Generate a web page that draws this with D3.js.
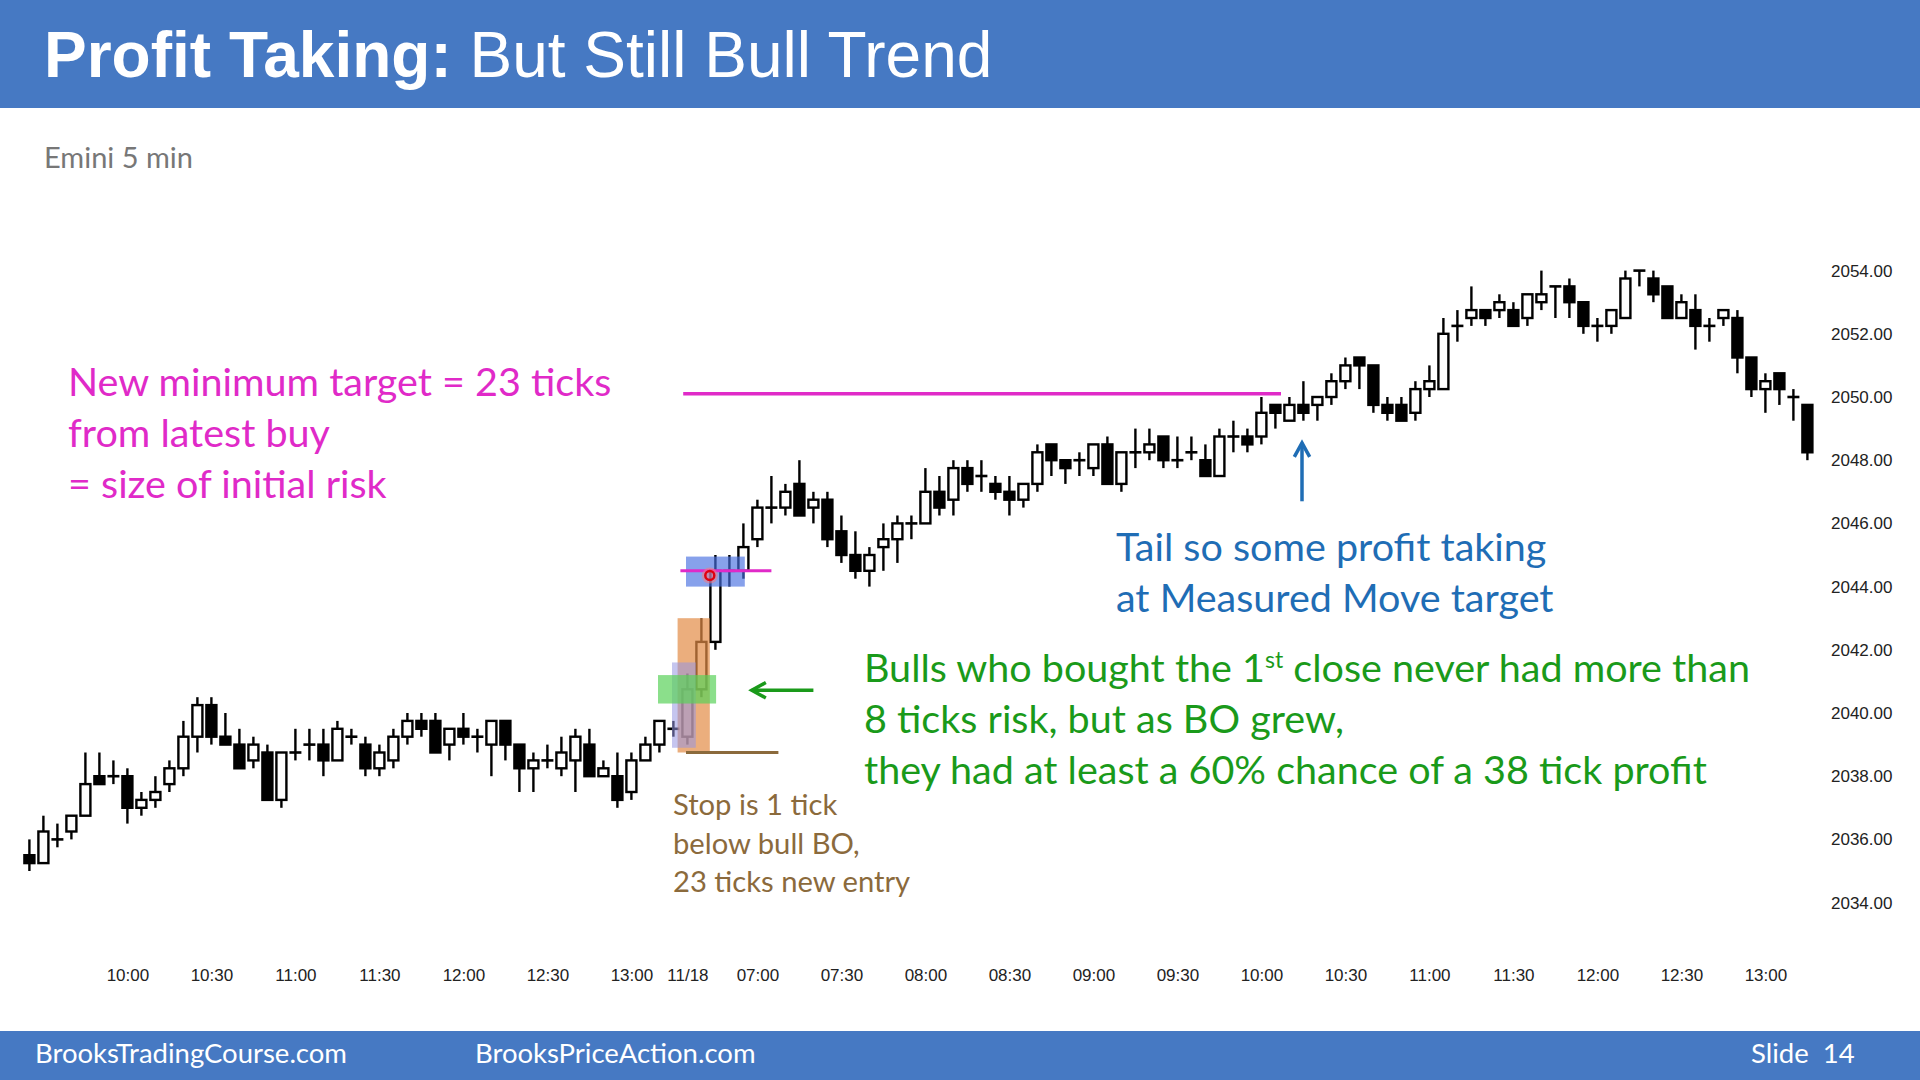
<!DOCTYPE html>
<meta charset="utf-8">
<script src="https://d3js.org/d3.v7.min.js"></script>
<style>
  body { margin: 0; background: #fff; }
  .note { font-family: Lato, "Noto Sans", sans-serif; }
  .axis text { font-family: "Liberation Sans", Arial, sans-serif; fill: #222; }
</style>
<body>
<div id="vis"></div>
<script>
// ---- data: Emini 5 min bars, 11/17 afternoon then 11/18 session ----
var day1Times = ["09:25","09:30","09:35","09:40","09:45","09:50","09:55","10:00","10:05","10:10",
  "10:15","10:20","10:25","10:30","10:35","10:40","10:45","10:50","10:55","11:00",
  "11:05","11:10","11:15","11:20","11:25","11:30","11:35","11:40","11:45","11:50",
  "11:55","12:00","12:05","12:10","12:15","12:20","12:25","12:30","12:35","12:40",
  "12:45","12:50","12:55","13:00","13:05","13:10","13:15"];
var day2Times = ["06:35","06:40","06:45","06:50","06:55","07:00","07:05","07:10","07:15","07:20",
  "07:25","07:30","07:35","07:40","07:45","07:50","07:55","08:00","08:05","08:10",
  "08:15","08:20","08:25","08:30","08:35","08:40","08:45","08:50","08:55","09:00",
  "09:05","09:10","09:15","09:20","09:25","09:30","09:35","09:40","09:45","09:50",
  "09:55","10:00","10:05","10:10","10:15","10:20","10:25","10:30","10:35","10:40",
  "10:45","10:50","10:55","11:00","11:05","11:10","11:15","11:20","11:25","11:30",
  "11:35","11:40","11:45","11:50","11:55","12:00","12:05","12:10","12:15","12:20",
  "12:25","12:30","12:35","12:40","12:45","12:50","12:55","13:00","13:05","13:10","13:15"];

var opens = [2035.5,2035.25,2036,2036.25,2036.75,2038,2038,2038,2037,2037.25,
  2037.75,2038.25,2039.25,2040.25,2039.25,2039,2038.5,2038.75,2037.25,2038.75,
  2039,2039,2038.5,2039.25,2039,2038.25,2038.5,2039.25,2039.75,2039.75,
  2039,2039.5,2039.25,2039,2039.75,2039,2038.25,2038.5,2038.25,2038.5,
  2039,2038,2038,2037.5,2038.5,2039,2039.5,
  2039.25,2040.75,2042.25,2044.5,2044.5,2045.5,2046.5,2046.5,2047.25,2046.5,
  2046.75,2045.75,2045,2044.5,2045.25,2045.5,2046,2046,2047,2046.75,
  2047.75,2047.5,2047.25,2047,2046.75,2047.25,2048.5,2048,2048,2047.75,
  2048.5,2047.25,2048.25,2048.25,2048.75,2048,2048.25,2048,2047.5,2048.75,
  2048.75,2048.75,2049.75,2049.25,2049.75,2049.75,2050,2050.5,2051.25,2051,
  2049.75,2049.75,2049.5,2050.25,2050.25,2052.25,2052.5,2052.75,2052.75,2052.75,
  2052.5,2053,2053.5,2053.5,2053,2052.25,2052.25,2052.5,2054,2053.75,
  2053.5,2052.5,2052.75,2052.25,2052.5,2052.5,2051.25,2050.25,2050.75,2050,2049.75];
var highs = [2036,2036.75,2036.5,2036.75,2038.75,2038.75,2038.5,2038.25,2037.5,2038,
  2038.5,2039.75,2040.5,2040.5,2040,2039.5,2039.25,2039,2038.75,2039.5,
  2039.5,2039.5,2039.75,2039.5,2039.25,2039,2039.5,2040,2040,2040,
  2039.5,2040,2039.5,2039.75,2039.75,2039,2038.75,2039,2039.25,2039.5,
  2039.5,2038.5,2038.75,2038.75,2039.25,2039.75,2039.75,
  2041.25,2043,2045,2045,2046,2046.75,2047.5,2047.25,2048,2047,
  2047,2046.25,2045.75,2045.25,2046,2046.25,2046.25,2047.75,2047.5,2048,
  2048,2048,2047.5,2047.5,2047.25,2048.5,2048.5,2048,2048.25,2048.5,
  2048.75,2048.25,2049,2049,2048.75,2048.75,2048.75,2048.5,2049,2049.25,
  2049,2050,2049.75,2050,2050.5,2050,2050.75,2051.25,2051.25,2051,
  2050,2050,2050.5,2051,2052.5,2052.75,2053.5,2052.75,2053.25,2053,
  2053.25,2054,2053.5,2053.75,2053,2052.5,2052.75,2054,2054,2054,
  2053.5,2053.25,2053.25,2052.5,2052.75,2052.75,2051.25,2050.75,2050.75,2050.25,2049.75];
var lows = [2035,2035.25,2035.75,2036,2036.75,2037.75,2037.75,2036.5,2036.75,2037,
  2037.5,2038,2038.75,2039,2039,2038.25,2038.25,2037.25,2037,2038.5,
  2038.5,2038,2038.5,2039,2038,2038,2038.25,2039,2039.25,2038.75,
  2038.5,2039,2038.75,2038,2038.5,2037.5,2037.5,2038.25,2038,2037.5,
  2038,2038,2037,2037.25,2038.5,2038.75,2039.25,
  2039,2040.5,2042,2044,2044.25,2045.25,2046,2046.25,2046.25,2046,
  2045.25,2044.75,2044.25,2044,2044.5,2044.75,2045.5,2046,2046.25,2046.25,
  2047,2047,2046.75,2046.25,2046.5,2047,2047.5,2047.25,2047.5,2047.5,
  2047.25,2047,2047.75,2048,2047.75,2047.75,2048,2047.5,2047.5,2048.25,
  2048.25,2048.5,2049,2049.25,2049.25,2049.25,2049.75,2050.25,2050.25,2049.5,
  2049.25,2049.25,2049.25,2050,2050.25,2051.75,2052.25,2052.25,2052.5,2052.25,
  2052.25,2052.75,2052.5,2052.5,2052,2051.75,2052,2052.5,2053.5,2053,
  2052.5,2052.5,2051.5,2051.75,2052.25,2050.75,2050,2049.5,2049.75,2049.25,2048];
var closes = [2035.25,2036.25,2036,2036.75,2037.75,2037.75,2038,2037,2037.25,2037.5,
  2038.25,2039.25,2040.25,2039.25,2039,2038.25,2039,2037.25,2038.75,2038.75,
  2039,2038.5,2039.5,2039.25,2038.25,2038.75,2039.25,2039.75,2039.5,2038.75,
  2039.5,2039.25,2039.25,2039.75,2039,2038.25,2038.5,2038.5,2038.75,2039.25,
  2038,2038.25,2037.25,2038.5,2039,2039.75,2039.5,
  2040.75,2042.25,2044.5,2044.5,2045.25,2046.5,2046.5,2047,2046.25,2046.75,
  2045.5,2045,2044.5,2045,2045.5,2046,2046,2047,2046.5,2047.75,
  2047.25,2047.5,2047,2046.75,2047.25,2048.25,2048,2047.75,2048,2048.5,
  2047.25,2048.25,2048.25,2048.5,2048,2048,2048.25,2047.5,2048.75,2048.75,
  2048.5,2049.5,2049.5,2049.75,2049.5,2050,2050.5,2051,2051,2049.75,
  2049.5,2049.25,2050.25,2050.5,2052,2052.25,2052.75,2052.5,2053,2052.25,
  2053.25,2053.25,2053.5,2053,2052.25,2052.25,2052.75,2053.75,2054,2053.25,
  2052.5,2053,2052.25,2052.25,2052.75,2051.25,2050.25,2050.5,2050.25,2050,2048.25];

var priceTicks = [2034,2036,2038,2040,2042,2044,2046,2048,2050,2052,2054];
var timeTickKeys = ["17 10:00","17 10:30","17 11:00","17 11:30","17 12:00","17 12:30","17 13:00",
  "18 06:35","18 07:00","18 07:30","18 08:00","18 08:30","18 09:00","18 09:30","18 10:00",
  "18 10:30","18 11:00","18 11:30","18 12:00","18 12:30","18 13:00"];
var timeTickLabels = ["10:00","10:30","11:00","11:30","12:00","12:30","13:00",
  "11/18","07:00","07:30","08:00","08:30","09:00","09:30","10:00",
  "10:30","11:00","11:30","12:00","12:30","13:00"];

// ---- layout ----
var W = 1920, H = 1080;
var keys = day1Times.map(function(t){ return "17 " + t; })
  .concat(day2Times.map(function(t){ return "18 " + t; }));
var bars = keys.map(function(k, i){
  return {key: k, i: i, o: opens[i], h: highs[i], l: lows[i], c: closes[i]};
});

var svg = d3.select("#vis").append("svg")
  .attr("width", W).attr("height", H)
  .style("display", "block");

// header / footer
var blue = "#4679c3";
svg.append("rect").attr("x",0).attr("y",0).attr("width",W).attr("height",108).attr("fill",blue);
svg.append("rect").attr("x",0).attr("y",1031).attr("width",W).attr("height",49).attr("fill",blue);

var title = svg.append("text")
  .attr("x", 44).attr("y", 77)
  .attr("fill", "#fff")
  .style("font-family", "'Liberation Sans', Arial, sans-serif")
  .style("font-size", "64px");
title.append("tspan").style("font-weight","bold").text("Profit Taking:");
title.append("tspan").text(" But Still Bull Trend");

svg.append("text").attr("class","note")
  .attr("x", 44).attr("y", 168)
  .attr("fill", "#777").style("font-size","29px")
  .text("Emini 5 min");

var footer = [["BrooksTradingCourse.com", 35], ["BrooksPriceAction.com", 475], ["Slide  14", 1751]];
svg.selectAll(".foot").data(footer).enter().append("text")
  .attr("class","note foot")
  .attr("x", function(d){ return d[1]; })
  .attr("y", 1063)
  .attr("fill", "#fff").style("font-size","27.5px")
  .style("white-space","pre")
  .text(function(d){ return d[0]; });

// scales
var x = d3.scalePoint().domain(keys).range([29.4, 1807.4]);
var y = d3.scaleLinear().domain([2034, 2054]).range([902.6, 270.6]);
var step = x.step();
var xi = function(v){ return x(keys[0]) + v * step; }; // fractional bar index, 0 = first bar

// axes
var yAxis = svg.append("g").attr("class","axis")
  .attr("transform","translate(1826,0)")
  .call(d3.axisRight(y).tickValues(priceTicks).tickSize(0).tickPadding(5).tickFormat(d3.format(".2f")));
yAxis.select(".domain").remove();
yAxis.selectAll("text").style("font-size","17px");

var xAxis = svg.append("g").attr("class","axis")
  .attr("transform","translate(0,969)")
  .call(d3.axisBottom(x).tickValues(timeTickKeys).tickSize(0).tickPadding(0)
    .tickFormat(function(d){ return timeTickLabels[timeTickKeys.indexOf(d)]; }));
xAxis.select(".domain").remove();
xAxis.selectAll("text")
  .style("font-family","'Liberation Sans Narrow', 'Arial Narrow', sans-serif")
  .style("font-size","17px")
  .attr("dy","0.71em");

// candles
var bw = 10;
var cg = svg.append("g");
cg.selectAll(".wick").data(bars).enter().append("line")
  .attr("x1", function(d){ return x(d.key); })
  .attr("x2", function(d){ return x(d.key); })
  .attr("y1", function(d){ return y(d.h); })
  .attr("y2", function(d){ return y(d.l); })
  .attr("stroke","#000").attr("stroke-width",2.4);
cg.selectAll(".body").data(bars.filter(function(d){ return d.o !== d.c; })).enter().append("rect")
  .attr("x", function(d){ return x(d.key) - bw/2; })
  .attr("y", function(d){ return y(Math.max(d.o, d.c)); })
  .attr("width", bw)
  .attr("height", function(d){ return Math.abs(y(d.o) - y(d.c)); })
  .attr("fill", function(d){ return d.c > d.o ? "#fff" : "#000"; })
  .attr("stroke","#000").attr("stroke-width",2.4);
cg.selectAll(".doji").data(bars.filter(function(d){ return d.o === d.c; })).enter().append("line")
  .attr("x1", function(d){ return x(d.key) - bw/2 - 1; })
  .attr("x2", function(d){ return x(d.key) + bw/2 + 1; })
  .attr("y1", function(d){ return y(d.c); })
  .attr("y2", function(d){ return y(d.c); })
  .attr("stroke","#000").attr("stroke-width",2.6);

// highlight boxes on the breakout (bar index from, bar index to, price low, price high)
var boxes = [
  {x0: 46.3, x1: 48.6, p0: 2038.75, p1: 2043.0, fill: "rgb(226,140,70)", op: 0.7},
  {x0: 45.9, x1: 47.6, p0: 2038.9, p1: 2041.6, fill: "rgb(150,150,225)", op: 0.55},
  {x0: 44.9, x1: 49.05, p0: 2040.3, p1: 2041.2, fill: "rgb(90,210,90)", op: 0.7},
  {x0: 46.9, x1: 51.1, p0: 2044.0, p1: 2044.95, fill: "rgb(70,110,225)", op: 0.65}
];
svg.selectAll(".box").data(boxes).enter().append("rect")
  .attr("x", function(d){ return xi(d.x0); })
  .attr("width", function(d){ return xi(d.x1) - xi(d.x0); })
  .attr("y", function(d){ return y(d.p1); })
  .attr("height", function(d){ return y(d.p0) - y(d.p1); })
  .attr("fill", function(d){ return d.fill; })
  .attr("opacity", function(d){ return d.op; });

var magenta = "#e02ac8";
// target and entry lines
var levels = [
  {x0: 46.7, x1: 89.4, p: 2050.1, color: magenta, w: 3.5},
  {x0: 46.5, x1: 53.0, p: 2044.5, color: magenta, w: 3},
  {x0: 46.9, x1: 53.5, p: 2038.75, color: "#8b6a3c", w: 3}
];
svg.selectAll(".lvl").data(levels).enter().append("line")
  .attr("x1", function(d){ return xi(d.x0); })
  .attr("x2", function(d){ return xi(d.x1); })
  .attr("y1", function(d){ return y(d.p); })
  .attr("y2", function(d){ return y(d.p); })
  .attr("stroke", function(d){ return d.color; })
  .attr("stroke-width", function(d){ return d.w; });

// entry marker
svg.append("circle").attr("cx", xi(48.6)).attr("cy", y(2044.35)).attr("r", 8)
  .attr("fill", "rgb(255,120,120)").attr("opacity", 0.5);
svg.append("circle").attr("cx", xi(48.6)).attr("cy", y(2044.35)).attr("r", 4.5)
  .attr("fill", "none").attr("stroke", "#e00010").attr("stroke-width", 2.5);

// arrows
function arrow(x1, y1, x2, y2, color) {
  var a = Math.atan2(y2 - y1, x2 - x1), L = 16, s = 0.5;
  svg.append("line").attr("x1",x1).attr("y1",y1).attr("x2",x2).attr("y2",y2)
    .attr("stroke",color).attr("stroke-width",3.5);
  svg.append("path")
    .attr("d", "M" + (x2 - L*Math.cos(a - s)) + "," + (y2 - L*Math.sin(a - s)) +
               "L" + x2 + "," + y2 +
               "L" + (x2 - L*Math.cos(a + s)) + "," + (y2 - L*Math.sin(a + s)))
    .attr("fill","none").attr("stroke",color).attr("stroke-width",3.5)
    .attr("stroke-linejoin","miter");
}
arrow(xi(90.9), y(2046.7), xi(90.9), y(2048.55), "#1f6db5");
arrow(xi(56.0), y(2040.72), xi(51.6), y(2040.72), "#1a9a1a");

// text notes
function note(lines, x0, y0, lh, color, size) {
  var t = svg.append("text").attr("class","note")
    .attr("fill", color).style("font-size", size + "px");
  lines.forEach(function(l, i){
    t.append("tspan").attr("x", x0).attr("y", y0 + i*lh).text(l);
  });
  return t;
}
note(["New minimum target = 23 ticks", "from latest buy", "= size of initial risk"],
  68, 396, 51, magenta, 39.5);
note(["Tail so some profit taking", "at Measured Move target"],
  1116, 561, 51, "#1f6db5", 39.5);
note(["Stop is 1 tick", "below bull BO,", "23 ticks new entry"],
  673, 815, 38.5, "#8b6a3c", 29.2);

var g = svg.append("text").attr("class","note").attr("fill","#1a9a1a").style("font-size","39.5px");
var l1 = g.append("tspan").attr("x", 864).attr("y", 682);
l1.append("tspan").text("Bulls who bought the 1");
l1.append("tspan").attr("dy", -14).style("font-size","23px").text("st");
l1.append("tspan").attr("dy", 14).text(" close never had more than");
g.append("tspan").attr("x", 864).attr("y", 733).text("8 ticks risk, but as BO grew,");
g.append("tspan").attr("x", 864).attr("y", 784).text("they had at least a 60% chance of a 38 tick profit");
</script>
</body>
